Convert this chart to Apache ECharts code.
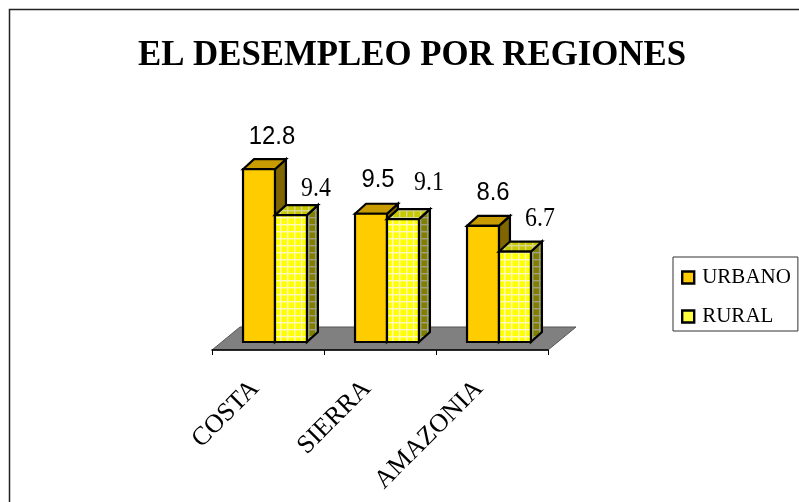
<!DOCTYPE html>
<html><head><meta charset="utf-8">
<style>html,body{margin:0;padding:0;background:#fff}#c{width:799px;height:502px}</style>
<script src="https://cdn.jsdelivr.net/npm/echarts@6/dist/echarts.min.js"></script>
</head><body><div id="c"></div>
<script>
const categories = ['COSTA', 'SIERRA', 'AMAZONIA'];
const urbano = [12.8, 9.5, 8.6];
const rural = [9.4, 9.1, 6.7];
const titleText = 'EL DESEMPLEO POR REGIONES';

function hatch(bg, line) {
  const c = document.createElement('canvas');
  c.width = 7; c.height = 7;
  const g = c.getContext('2d');
  g.fillStyle = bg; g.fillRect(0, 0, 7, 7);
  g.fillStyle = line; g.fillRect(0, 0, 7, 1.4); g.fillRect(0, 0, 1.4, 7);
  return { image: c, repeat: 'repeat' };
}
const SERIF = '"Liberation Serif","Times New Roman",serif';
const SANS = '"Liberation Sans",Arial,sans-serif';
const DX = 11, DY = -10;
const FLOOR_DX = 28, FLOOR_DY = -23, FLOOR_DROP = 8;
const BAR_FRAC = 0.285;

function barRenderer(opts) {
  return function (params, api) {
    const i = api.value(0);
    const base = api.coord([i, 0]);
    const top = api.coord([i, api.value(1)]);
    const band = api.size([1, 0])[0];
    const w = band * BAR_FRAC;
    const x0 = base[0] + band * opts.start;
    const x1 = x0 + w;
    const yt = top[1], yb = base[1];
    const stroke = { stroke: '#000', lineWidth: 2.2, lineJoin: 'miter' };
    const lab = opts.labelOffset[i];
    return {
      type: 'group',
      children: [
        { type: 'polygon', shape: { points: [[x1, yt], [x1 + DX, yt + DY], [x1 + DX, yb + DY], [x1, yb]] },
          style: Object.assign({ fill: opts.side }, stroke) },
        { type: 'polygon', shape: { points: [[x0, yt], [x0 + DX, yt + DY], [x1 + DX, yt + DY], [x1, yt]] },
          style: Object.assign({ fill: opts.top }, stroke) },
        { type: 'rect', shape: { x: x0, y: yt, width: x1 - x0, height: yb - yt },
          style: Object.assign({ fill: opts.front }, stroke) },
        { type: 'text', x: (x0 + x1) / 2 + lab[0], y: yt - lab[1], scaleX: 0.9,
          style: { text: api.value(1).toFixed(1), fill: '#000', font: opts.font, align: 'center', verticalAlign: 'middle' } }
      ]
    };
  };
}

const chart = echarts.init(document.getElementById('c'), null, { renderer: 'canvas' });
const ruralFront = hatch('#ffff00', '#fff8c0');
chart.setOption({
  animation: false,
  backgroundColor: '#fff',
  legend: {
    data: [
      { name: 'URBANO', itemStyle: { color: '#ffcc00', borderColor: '#000', borderWidth: 2.4 } },
      { name: 'RURAL', itemStyle: { color: '#ffff40', borderColor: '#000', borderWidth: 2.4 } }
    ], orient: 'vertical', left: 673, top: 257,
    backgroundColor: '#fff', borderColor: '#333', borderWidth: 1,
    padding: [10, 7, 4, 8], itemGap: 18, itemWidth: 12, itemHeight: 12, icon: 'rect',
    textStyle: { fontFamily: SERIF, fontSize: 21, color: '#000', padding: [0, 0, 0, 3] }
  },
  grid: { left: 212, width: 336, top: 153, height: 189 },
  xAxis: {
    type: 'category', data: categories, offset: 8, z: 5,
    axisLine: { onZero: false, lineStyle: { color: '#000', width: 1.5 } },
    axisTick: { show: true, length: 5, inside: false, alignWithLabel: false, lineStyle: { color: '#000', width: 1 } },
    axisLabel: { rotate: 45, fontFamily: SERIF, fontSize: 26, color: '#000', margin: 22, interval: 0, padding: [0, 18, 0, 0] }
  },
  yAxis: { type: 'value', min: 0, max: 14, show: false },
  graphic: [
    { type: 'rect', z: -1, silent: true,
      shape: { x: 9.5, y: 9.5, width: 900, height: 900 },
      style: { fill: 'none', stroke: '#222', lineWidth: 1.5 } },
    { type: 'text', x: 412, y: 56, scaleX: 0.953, silent: true,
      style: { text: titleText, fill: '#000', font: 'bold 36.5px ' + SERIF, align: 'center', verticalAlign: 'middle' } }
  ],
  series: [
    { type: 'custom', name: 'floor', silent: true, z: 1, clip: false, data: [[0, 0]],
      renderItem: function (params, api) {
        const p = api.coord([0, 0]);
        const band = api.size([1, 0])[0];
        const xl = p[0] - band / 2, xr = xl + band * categories.length, y = p[1] + FLOOR_DROP;
        return { type: 'polygon',
          shape: { points: [[xl, y], [xr, y], [xr + FLOOR_DX, y + FLOOR_DY], [xl + FLOOR_DX, y + FLOOR_DY]] },
          style: { fill: '#808080', stroke: '#555', lineWidth: 1 } };
      } },
    { type: 'custom', name: 'URBANO', z: 2, clip: false,
      itemStyle: { color: '#ffcc00', borderColor: '#000', borderWidth: 2 },
      data: urbano.map((v, i) => [i, v]), encode: { x: 0, y: 1 },
      renderItem: barRenderer({ start: -0.223, front: '#ffcc00', top: '#c89c00', side: '#806600', font: '26.5px ' + SANS,
        labelOffset: [[13, 33], [7, 34], [10, 33]] }) },
    { type: 'custom', name: 'RURAL', z: 3, clip: false,
      itemStyle: { color: '#ffff00', borderColor: '#000', borderWidth: 2 },
      data: rural.map((v, i) => [i, v]), encode: { x: 0, y: 1 },
      renderItem: barRenderer({ start: 0.0625, front: ruralFront, top: hatch('#c8c800', '#d8d890'), side: hatch('#808000', '#a0a080'), font: '26.5px ' + SERIF,
        labelOffset: [[25, 26], [26, 36], [25, 33]] }) }
  ]
});
</script></body></html>
